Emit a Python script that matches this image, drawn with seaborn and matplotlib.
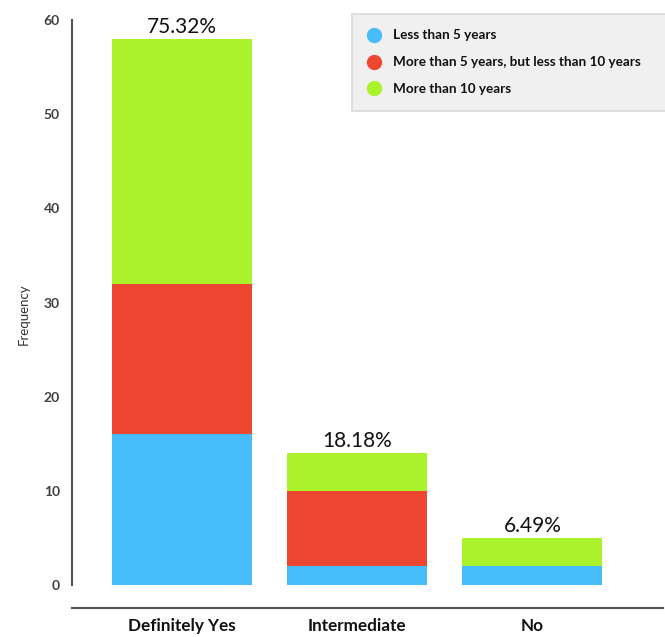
import pandas as pd
import matplotlib.pyplot as plt
import seaborn as sns
from matplotlib.lines import Line2D

# data
categories = ["Definitely Yes", "Intermediate", "No"]
less_5 = [16, 2, 2]
between_5_10 = [16, 8, 0]
more_10 = [26, 4, 3]
pct_labels = ["75.32%", "18.18%", "6.49%"]
series_names = ["Less than 5 years",
                "More than 5 years, but less than 10 years",
                "More than 10 years"]
colors = ["#46BDFA", "#EE4731", "#A9F22C"]


def main():
    sns.set_style("white")
    plt.rcParams["font.family"] = ["Lato", "DejaVu Sans"]

    df = pd.DataFrame({"category": categories, "a": less_5,
                       "b": between_5_10, "c": more_10})
    df["cum_a"] = df["a"]
    df["cum_b"] = df["a"] + df["b"]
    df["cum_c"] = df["cum_b"] + df["c"]

    fig = plt.figure(figsize=(6.65, 6.37), dpi=100)
    ax = fig.add_axes([0.108, 0.0455, 0.889, 0.923])

    # stacked bars: draw the tallest cumulative total first
    for col, color in zip(["cum_c", "cum_b", "cum_a"], colors[::-1]):
        sns.barplot(data=df, x="category", y=col, order=categories,
                    color=color, width=0.8, saturation=1, linewidth=0,
                    ax=ax)

    for i, (tot, lab) in enumerate(zip(df["cum_c"], pct_labels)):
        ax.text(i, tot + 0.25, lab, ha="center", va="bottom",
                fontsize=15, color="#111111", clip_on=False)

    ax.set_xlim(-0.631, 2.746)
    ax.set_ylim(-2.44, 60)
    ax.set_yticks(range(0, 61, 10))
    ax.spines["left"].set_bounds(0, 60)
    for s in ["top", "right"]:
        ax.spines[s].set_visible(False)
    for s in ["left", "bottom"]:
        ax.spines[s].set_color("#555555")
        ax.spines[s].set_linewidth(1.5)

    ax.tick_params(axis="y", direction="out", length=5, width=1,
                   color="#888888", labelsize=10, labelcolor="#404040")
    ax.tick_params(axis="x", direction="in", length=6, width=1,
                   color="#555555", labelsize=12.3, pad=7)
    for t in ax.get_yticklabels():
        t.set_fontweight("bold")
    for t in ax.get_xticklabels():
        t.set_fontweight("bold")
        t.set_color("#111111")

    ax.set_xlabel("")
    ax.set_ylabel("Frequency", fontsize=9.5, color="#333333", labelpad=10)

    handles = [Line2D([], [], marker="o", linestyle="", markersize=10,
                      markerfacecolor=c, markeredgecolor=c) for c in colors]
    leg = fig.legend(handles, series_names, loc="upper left",
                     bbox_to_anchor=(352 / 665, 1 - 108 / 637,
                                     325 / 665, 94 / 637),
                     mode="expand",
                     frameon=True, fancybox=False, facecolor="#F0F0F0",
                     edgecolor="#D8D8D8", framealpha=1,
                     prop={"size": 9.7, "weight": "bold"},
                     labelspacing=1.1, handletextpad=0.9,
                     borderpad=1.15, borderaxespad=0,
                     handlelength=1.0)
    leg.get_frame().set_linewidth(1.2)
    for t in leg.get_texts():
        t.set_color("#111111")

    fig.savefig("out.png", dpi=100)
    plt.close(fig)


if __name__ == "__main__":
    main()
